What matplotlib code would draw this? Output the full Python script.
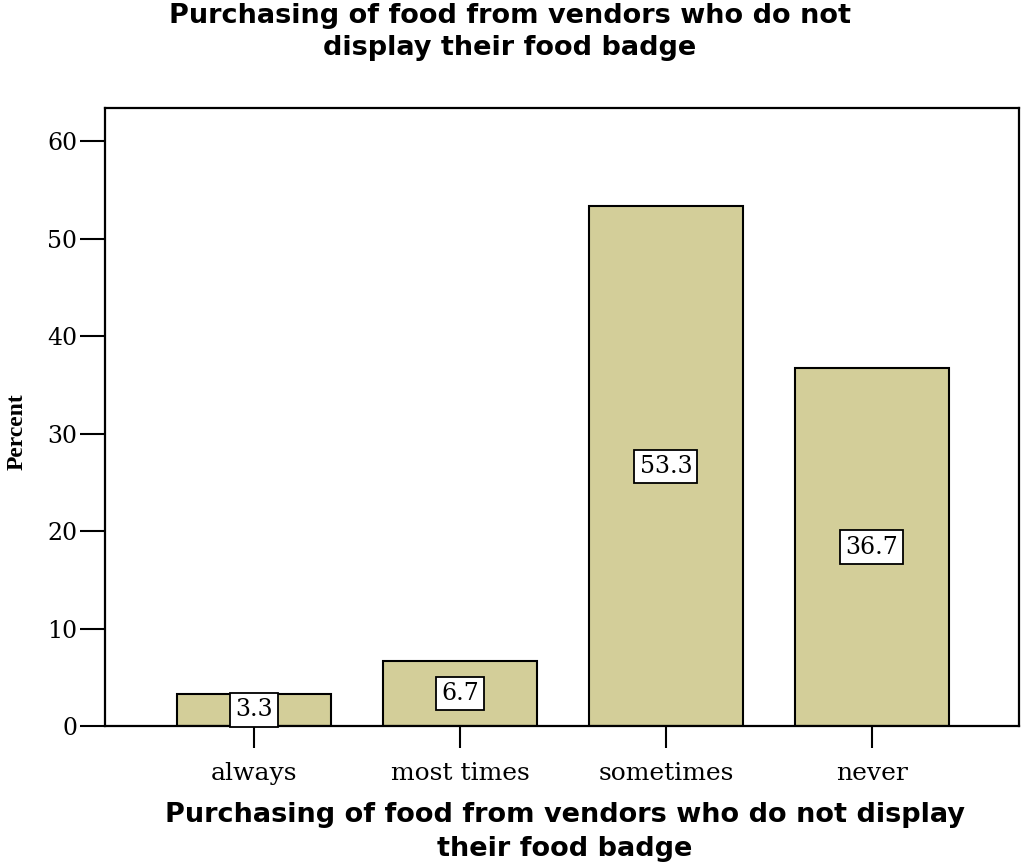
import matplotlib.pyplot as plt
import numpy as np

# survey answers and percentages
categories = ["always", "most times", "sometimes", "never"]
percent = [3.3, 6.7, 53.3, 36.7]
yticks = [0, 10, 20, 30, 40, 50, 60]

title = "Purchasing of food from vendors who do not\ndisplay their food badge"
xlabel = "Purchasing of food from vendors who do not display\ntheir food badge"

serif = "DejaVu Serif"
sans = "DejaVu Sans"

fig = plt.figure(figsize=(10.21, 8.67), dpi=100)
ax = fig.add_axes([105 / 1021, 1 - 726 / 867, (1019 - 105) / 1021, (726 - 108) / 867])

x = np.arange(len(categories))
ax.bar(x, percent, width=0.75, color="#d3ce99", edgecolor="black", linewidth=1.5, zorder=2)

# value boxes in the middle of each bar
for xi, v in zip(x, percent):
    ax.text(xi, v / 2, f"{v:.1f}", ha="center", va="center", fontsize=17,
            family=serif, zorder=3,
            bbox=dict(boxstyle="square,pad=0.22", facecolor="white",
                      edgecolor="black", linewidth=1.3))

ax.set_xlim(-0.723, 3.714)
ax.set_ylim(0, 63.4)
ax.set_xticks(x)
ax.set_xticklabels(categories, family=serif, fontsize=18)
ax.set_yticks(yticks)
ax.set_yticklabels([str(t) for t in yticks], family=serif, fontsize=17)
ax.tick_params(axis="y", length=18, width=1.5, pad=2)
ax.tick_params(axis="x", length=16, width=1.5, pad=10)
for s in ax.spines.values():
    s.set_linewidth(1.6)

fig.text(17 / 1021, 1 - 432 / 867, "Percent", rotation=90, ha="center", va="center",
         family="Liberation Serif", fontweight="bold", fontsize=17)
fig.text(510 / 1021, 1 - 32 / 867, title, ha="center", va="center",
         family=sans, fontweight="bold", fontsize=19.5, linespacing=1.27)
fig.text(565 / 1021, 1 - 832 / 867, xlabel, ha="center", va="center",
         family=sans, fontweight="bold", fontsize=19.5, linespacing=1.4)

fig.savefig("out.png", dpi=100)
